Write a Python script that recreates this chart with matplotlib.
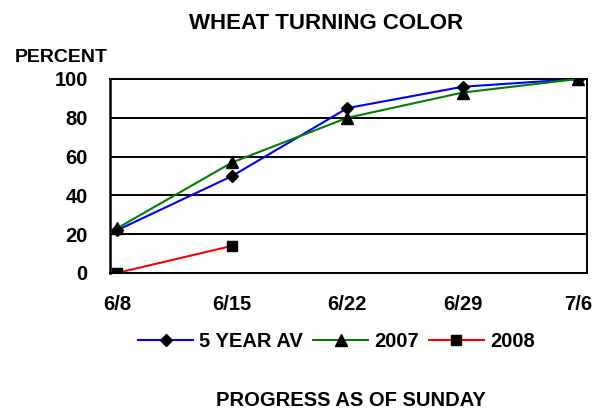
import matplotlib
matplotlib.use("Agg")
import matplotlib.pyplot as plt

dates = ["6/8", "6/15", "6/22", "6/29", "7/6"]
avg5 = [22, 50, 85, 96, 100]
y2007 = [23, 57, 80, 93, 100]
y2008 = [0, 14]
yticks = [0, 20, 40, 60, 80, 100]

plt.rcParams['font.family'] = ['Liberation Sans', 'DejaVu Sans']
plt.rcParams['font.weight'] = 'bold'

FS = 14.5

fig = plt.figure(figsize=(6.06, 4.08), dpi=100)
ax = fig.add_axes([110/606, 1-273/408, 477/606, 194/408])

x = list(range(len(dates)))
ax.plot(x, avg5, color='#0000ff', lw=1.5, marker='D', ms=6.5, mfc='black', mec='black', label='5 YEAR AV', zorder=3)
ax.plot(x, y2007, color='#008000', lw=1.5, marker='^', ms=9, mfc='black', mec='black', label='2007', zorder=3)
ax.plot(x[:len(y2008)], y2008, color='#ff0000', lw=1.5, marker='s', ms=7.5, mfc='black', mec='black', label='2008', zorder=3)

ax.set_xlim(-0.06, 4.08)
ax.set_ylim(0, 100)
ax.set_yticks(yticks)
ax.set_yticklabels([str(v) for v in yticks], fontsize=FS, fontweight='bold')
ax.set_xticks(x)
ax.set_xticklabels(dates, fontsize=FS, fontweight='bold')
ax.tick_params(axis='both', length=0)
ax.tick_params(axis='x', pad=16)
ax.tick_params(axis='y', pad=16)
ax.grid(axis='y', color='black', lw=1.4)
for s in ax.spines.values():
    s.set_linewidth(1.4)
    s.set_color('black')
ax.spines['left'].set_linewidth(1.8)

fig.text(326/606, 1-23.5/408, "WHEAT TURNING COLOR", ha='center', va='center', fontsize=16, fontweight='bold')
fig.text(15/606, 1-57.5/408, "PERCENT", ha='left', va='center', fontsize=14, fontweight='bold')
fig.text(351/606, 1-400/408, "PROGRESS AS OF SUNDAY", ha='center', va='center', fontsize=FS, fontweight='bold')

leg = fig.legend(loc='center', bbox_to_anchor=(336.5/606, 1-341.5/408), ncol=3, frameon=False,
                 prop={'size': FS, 'weight': 'bold'}, handlelength=2.73, columnspacing=0.5,
                 handletextpad=0.3, borderpad=0, borderaxespad=0)

fig.savefig("out.png", dpi=100)
